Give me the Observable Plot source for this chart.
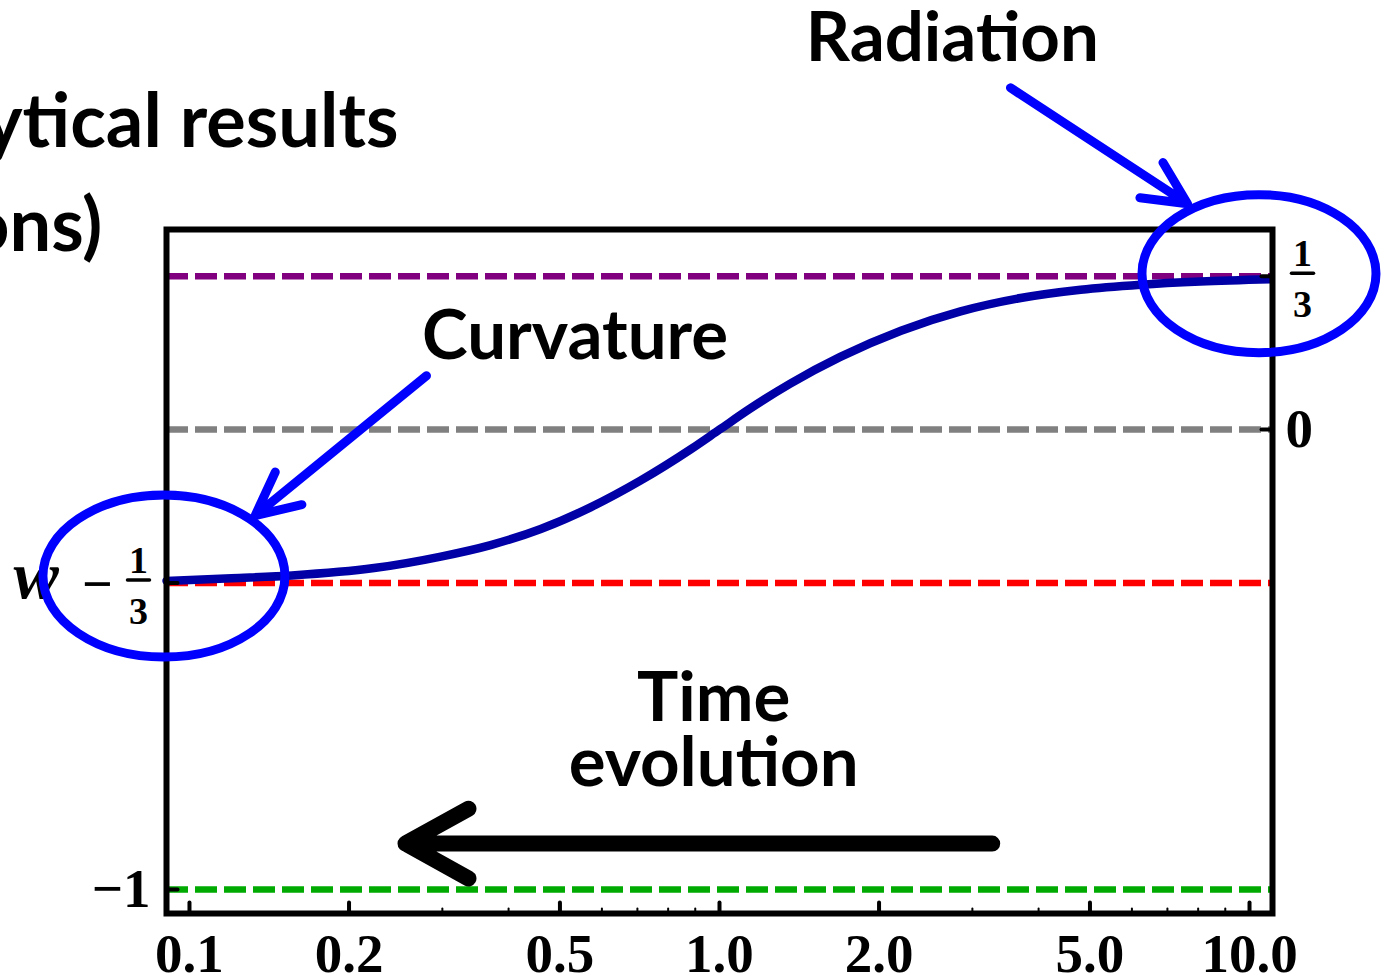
<!DOCTYPE html>
<html>
<head>
<meta charset="utf-8">
<script src="https://cdn.jsdelivr.net/npm/d3@7"></script>
<script src="https://cdn.jsdelivr.net/npm/@observablehq/plot@0.6"></script>
<style>
  html, body { margin: 0; padding: 0; background: #ffffff; }
  #chart svg { display: block; }
</style>
</head>
<body>
<div id="chart"></div>
<script>
// Equation of state w versus scale factor a (log axis)
const scaleFactor = [0.0905, 0.12, 0.156, 0.223, 0.298, 0.37, 0.46, 0.571, 0.709, 0.882, 1.0,
                     1.14, 1.36, 1.69, 2.2, 2.85, 3.7, 4.8, 6.23, 8.08, 10.96];
const eqOfState   = [-0.329, -0.323, -0.317, -0.301, -0.276, -0.251, -0.216, -0.169, -0.111, -0.043, 0.000,
                     0.045, 0.100, 0.158, 0.215, 0.257, 0.286, 0.304, 0.315, 0.322, 0.327];

// Reference levels: radiation, zero, curvature, cosmological constant
const levelValues = [1 / 3, 0, -1 / 3, -1];
const levelColors = ["#800080", "#808080", "#ff0000", "#00aa00"];

// Axis ticks
const xTicks = [0.1, 0.2, 0.5, 1, 2, 5, 10];
const xMinorTicks = [0.3, 0.4, 0.6, 0.7, 0.8, 0.9, 3, 4, 6, 7, 8, 9];
const yLeftTicks = [-1 / 3, -1];
const yRightTicks = [1 / 3, 0];

// Annotations (data coordinates)
const calloutLabels = ["Radiation", "Curvature"];
const calloutX = [2.75, 0.534];
const calloutY = [0.849, 0.202];
const headingLabels = ["ytical results", "ons)"];
const headingX = [0.248, 0.0685];
const headingY = [0.665, 0.439];
const timeLabels = ["Time", "evolution"];
const timeLabelX = 0.975;
const timeLabelY = [-0.586, -0.727];
const pointerFrom = [[0.280, 0.117], [3.54, 0.743]];
const pointerTo   = [[0.133, -0.187], [7.64, 0.491]];
const timeArrowFrom = [3.27, -0.9];
const timeArrowTo   = [0.2556, -0.9];
const ringCenters = [[0.0895, -0.3185], [10.42, 0.339]];

const curve = scaleFactor.map((a, i) => ({a, w: eqOfState[i]}));
const levels = levelValues.map((v, i) => ({v, color: levelColors[i]}));
const callouts = calloutLabels.map((label, i) => ({label, x: calloutX[i], y: calloutY[i]}));
const headings = headingLabels.map((label, i) => ({label, x: headingX[i], y: headingY[i]}));
const timeText = timeLabels.map((label, i) => ({label, x: timeLabelX, y: timeLabelY[i]}));
const pointers = pointerFrom.map((p, i) => ({x1: p[0], y1: p[1], x2: pointerTo[i][0], y2: pointerTo[i][1]}));

// Short inward tick drawn by Plot.vector
const tickShape = {draw(context, length) { context.moveTo(0, 0); context.lineTo(0, -length); }};

// Ellipse outline used as a dot symbol
function ellipseSymbol(rx, ry) {
  const k = 0.5523, kx = rx * k, ky = ry * k;
  return {
    draw(ctx) {
      ctx.moveTo(-rx, 0);
      ctx.bezierCurveTo(-rx, -ky, -kx, -ry, 0, -ry);
      ctx.bezierCurveTo(kx, -ry, rx, -ky, rx, 0);
      ctx.bezierCurveTo(rx, ky, kx, ry, 0, ry);
      ctx.bezierCurveTo(-kx, ry, -rx, ky, -rx, 0);
      ctx.closePath();
    }
  };
}

const serif = "'Liberation Serif', 'Times New Roman', serif";
const sans = "Lato, 'Open Sans', sans-serif";
const blue = "#0000ff";

// Fraction 1/3 tick label pieces
function fractionLabel(value, anchor, dx, minus) {
  const marks = [
    Plot.text([value], {y: d => d, frameAnchor: anchor, dx, dy: -22, text: () => "1",
      fontFamily: serif, fontWeight: "bold", fontSize: 38, textAnchor: "middle", lineAnchor: "middle"}),
    Plot.text([value], {y: d => d, frameAnchor: anchor, dx, dy: 29, text: () => "3",
      fontFamily: serif, fontWeight: "bold", fontSize: 38, textAnchor: "middle", lineAnchor: "middle"}),
    Plot.vector([value], {y: d => d, frameAnchor: anchor, dx, dy: -3, rotate: 90, length: 22,
      anchor: "middle", shape: tickShape, stroke: "black", strokeWidth: 3.5})
  ];
  if (minus) {
    marks.push(Plot.text([value], {y: d => d, frameAnchor: anchor, dx: dx - 41, dy: 2, text: () => "\u2212",
      fontFamily: serif, fontWeight: "bold", fontSize: 54, textAnchor: "middle", lineAnchor: "middle"}));
  }
  return marks;
}

const chart = Plot.plot({
  width: 1384,
  height: 979,
  marginLeft: 166,
  marginRight: 112,
  marginTop: 229,
  marginBottom: 66,
  x: {type: "log", domain: [0.0905, 11.05], axis: null},
  y: {domain: [-1.052, 0.435], axis: null},
  marks: [
    // dashed reference levels
    ...levels.map(l => Plot.ruleY([l.v], {stroke: l.color, strokeWidth: 6.5, strokeDasharray: "22,7"})),
    // w(a)
    Plot.line(curve, {x: "a", y: "w", stroke: "#0000a6", strokeWidth: 8.5, curve: "monotone-x"}),
    Plot.frame({stroke: "black", strokeWidth: 6}),
    // inward ticks
    Plot.vector(xTicks, {x: d => d, frameAnchor: "bottom", length: 11, anchor: "start",
      shape: tickShape, stroke: "black", strokeWidth: 4}),
    Plot.vector(xMinorTicks, {x: d => d, frameAnchor: "bottom", length: 5, anchor: "start",
      shape: tickShape, stroke: "black", strokeWidth: 2}),
    Plot.vector(yLeftTicks, {y: d => d, frameAnchor: "left", rotate: 90, length: 11, anchor: "start",
      shape: tickShape, stroke: "black", strokeWidth: 4}),
    Plot.vector(yRightTicks, {y: d => d, frameAnchor: "right", rotate: -90, length: 11, anchor: "start",
      shape: tickShape, stroke: "black", strokeWidth: 4}),
    // tick labels
    Plot.text(xTicks, {x: d => d, text: d => d.toFixed(1), frameAnchor: "bottom", lineAnchor: "top", dy: 19,
      fontFamily: serif, fontWeight: "bold", fontSize: 55, textAnchor: "middle"}),
    Plot.text([-1], {y: d => d, frameAnchor: "left", dx: -16, text: () => "\u22121",
      fontFamily: serif, fontWeight: "bold", fontSize: 55, textAnchor: "end", lineAnchor: "middle"}),
    Plot.text([0], {y: d => d, frameAnchor: "right", dx: 13, text: () => "0",
      fontFamily: serif, fontWeight: "bold", fontSize: 55, textAnchor: "start", lineAnchor: "middle"}),
    ...fractionLabel(1 / 3, "right", 30, false),
    ...fractionLabel(-1 / 3, "left", -28, true),
    // y label
    Plot.text([-1 / 3], {y: d => d, frameAnchor: "left", dx: -153, dy: -7, text: () => "w",
      fontFamily: serif, fontStyle: "italic", fontWeight: "bold", fontSize: 68, textAnchor: "start", lineAnchor: "middle"}),
    // headings and callouts
    Plot.text(headings, {x: "x", y: "y", text: "label", textAnchor: "end", lineAnchor: "middle",
      fontFamily: sans, fontWeight: "bold", fontSize: 74}),
    Plot.text(callouts, {x: "x", y: "y", text: "label", textAnchor: "middle", lineAnchor: "middle",
      fontFamily: sans, fontWeight: "bold", fontSize: 69}),
    Plot.text(timeText, {x: "x", y: "y", text: "label", textAnchor: "middle", lineAnchor: "middle",
      fontFamily: sans, fontWeight: "bold", fontSize: 69}),
    // circled regions
    Plot.dot([ringCenters[0]], {x: d => d[0], y: d => d[1], symbol: ellipseSymbol(121, 81),
      stroke: blue, strokeWidth: 9, fill: "none"}),
    Plot.dot([ringCenters[1]], {x: d => d[0], y: d => d[1], symbol: ellipseSymbol(117, 79),
      stroke: blue, strokeWidth: 9, fill: "none"}),
    // pointers
    Plot.arrow(pointers, {x1: "x1", y1: "y1", x2: "x2", y2: "y2", stroke: blue, strokeWidth: 9,
      headAngle: 52, headLength: 8, strokeLinecap: "round", strokeLinejoin: "miter"}),
    Plot.arrow([0], {x1: () => timeArrowFrom[0], y1: () => timeArrowFrom[1], x2: () => timeArrowTo[0], y2: () => timeArrowTo[1],
      stroke: "black", strokeWidth: 16, headAngle: 58, headLength: 6.75, strokeLinecap: "round", strokeLinejoin: "miter"})
  ]
});

document.getElementById("chart").appendChild(chart);
</script>
</body>
</html>
